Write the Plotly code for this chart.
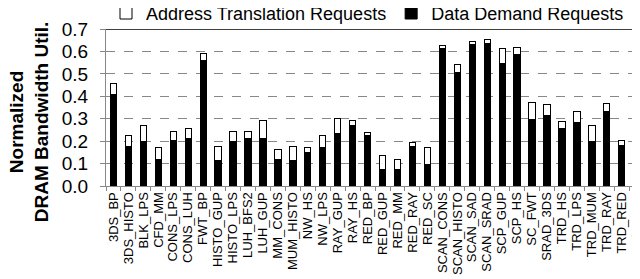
import plotly.graph_objects as go

categories = ["3DS_BP", "3DS_HISTO", "BLK_LPS", "CFD_MM", "CONS_LPS", "CONS_LUH", "FWT_BP",
              "HISTO_GUP", "HISTO_LPS", "LUH_BFS2", "LUH_GUP", "MM_CONS", "MUM_HISTO", "NW_HS",
              "NW_LPS", "RAY_GUP", "RAY_HS", "RED_BP", "RED_GUP", "RED_MM", "RED_RAY", "RED_SC",
              "SCAN_CONS", "SCAN_HISTO", "SCAN_SAD", "SCAN_SRAD", "SCP_GUP", "SCP_HS", "SC_FWT",
              "SRAD_3DS", "TRD_HS", "TRD_LPS", "TRD_MUM", "TRD_RAY", "TRD_RED", "Average"]

data_demand = [0.410, 0.175, 0.197, 0.118, 0.203, 0.210, 0.558,
               0.115, 0.200, 0.210, 0.210, 0.120, 0.115, 0.148,
               0.173, 0.236, 0.270, 0.227, 0.075, 0.072, 0.175, 0.098,
               0.612, 0.504, 0.631, 0.637, 0.546, 0.586, 0.295,
               0.316, 0.258, 0.285, 0.199, 0.333, 0.181, 0.231]

total = [0.455, 0.227, 0.270, 0.173, 0.242, 0.255, 0.593,
         0.176, 0.245, 0.243, 0.293, 0.161, 0.176, 0.173,
         0.224, 0.299, 0.293, 0.239, 0.137, 0.116, 0.196, 0.170,
         0.627, 0.543, 0.646, 0.654, 0.615, 0.618, 0.372,
         0.364, 0.287, 0.333, 0.269, 0.367, 0.203, 0.270]

addr_translation = [round(t - d, 3) for t, d in zip(total, data_demand)]

y_ticks = [0.0, 0.1, 0.2, 0.3, 0.4, 0.5, 0.6, 0.7]

FONT = "Liberation Sans, Arial, sans-serif"

fig = go.Figure()
fig.add_trace(go.Bar(
    x=categories, y=data_demand, name="Data Demand Requests",
    marker=dict(color="black", line=dict(color="black", width=1)),
    width=0.42, legendrank=2,
))
fig.add_trace(go.Bar(
    x=categories, y=addr_translation, name="Address Translation Requests",
    marker=dict(color="white", line=dict(color="black", width=1)),
    width=0.42, legendrank=1,
))

# The page body has an 8px default margin, so the figure is sized to fit the window.
fig.update_layout(
    barmode="stack",
    width=632, height=271,
    margin=dict(l=98, r=0, t=21, b=93, pad=0, autoexpand=False),
    paper_bgcolor="white", plot_bgcolor="white",
    font=dict(family=FONT, color="black"),
    legend=dict(orientation="h", x=0.0, xanchor="left", y=1.10, yanchor="middle",
                traceorder="normal",
                font=dict(size=18, family=FONT), itemwidth=30, tracegroupgap=0,
                bgcolor="rgba(0,0,0,0)"),
    xaxis=dict(
        range=[-0.5, 35.22], tickangle=-90, tickfont=dict(size=13, family=FONT),
        tickmode="array", tickvals=categories, ticktext=categories,
        showline=True, linecolor="#888888", linewidth=1,
        ticks="outside", tickson="boundaries", ticklen=4, tickcolor="#888888",
        showgrid=False, automargin=False, ticklabeloverflow="allow",
    ),
    yaxis=dict(
        range=[0, 0.7], tickvals=y_ticks, tickformat=".1f",
        tickfont=dict(size=19, family=FONT),
        showline=True, linecolor="#888888", linewidth=1,
        ticks="outside", ticklen=5, tickcolor="#888888", ticklabelstandoff=8,
        showgrid=True, gridcolor="#888888", gridwidth=1, griddash="dash",
        zeroline=False, automargin=False,
    ),
    shapes=[dict(type="line", xref="paper", x0=0, x1=1, yref="y", y0=0.7, y1=0.7,
                 line=dict(color="black", width=1.5))],
    annotations=[dict(
        text="<b>Normalized</b><br><b>DRAM Bandwidth Util.</b>",
        xref="paper", yref="paper", x=-0.145, y=0.41, xanchor="center", yanchor="middle",
        textangle=-90, showarrow=False, font=dict(size=19, family=FONT),
    )],
)

fig.write_html("out.html")
